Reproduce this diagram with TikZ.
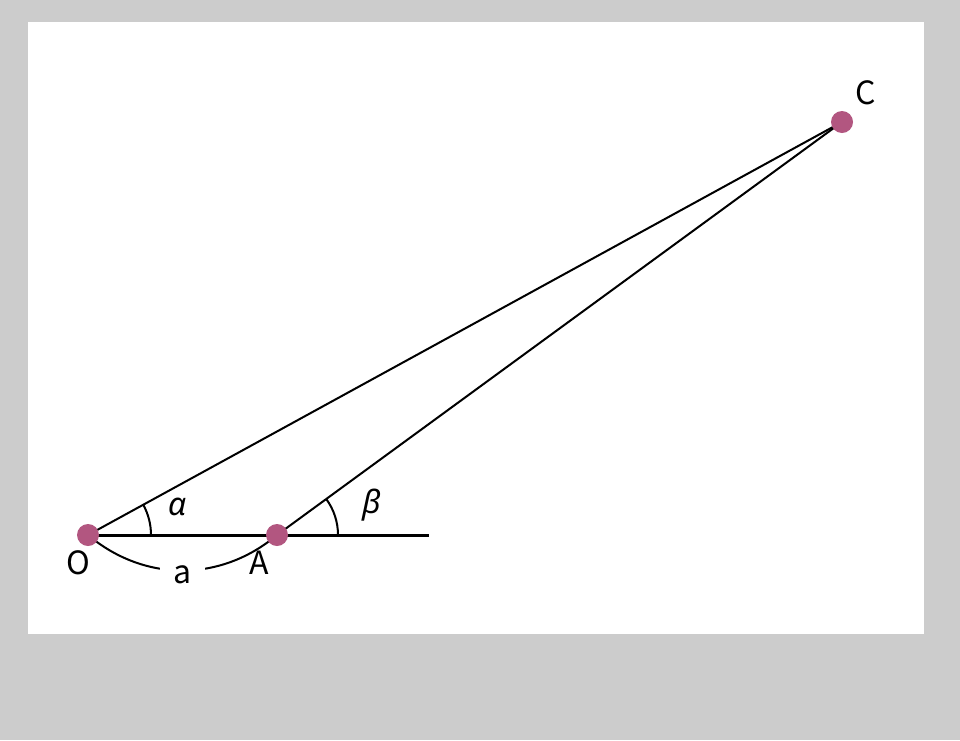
\documentclass[tikz,border=0pt]{standalone}
\usepackage{fontspec}
\setmainfont{Noto Sans CJK JP}
\newfontfamily\greekfont{Noto Sans}
\usetikzlibrary{angles}
\definecolor{dotpink}{RGB}{178,86,128}
\definecolor{framegray}{RGB}{204,204,204}

\begin{document}
\begin{tikzpicture}[x=0.75pt,y=-0.75pt,
  dot/.style = {circle, fill=dotpink, inner sep=0pt, minimum size=16.5pt},
  lbl/.style = {font=\fontsize{24}{28}\selectfont},
  greek/.style = {font=\fontsize{24}{28}\selectfont\greekfont\itshape},
  edge/.style = {line width=1.5pt}]
\fill[framegray] (0,0) rectangle (960,740);
\fill[white] (28,22) rectangle (924,634);
\coordinate (O) at (88,535);
\coordinate (A) at (277,535);
\coordinate (C) at (842,122);
\coordinate (E) at (429,535);
\draw[line width=2.25pt] (O) -- (E);
\draw[edge] (O) -- (C);
\draw[edge] (A) -- (C);
\pic[draw, edge, angle radius=47.25pt] {angle = E--O--C};
\pic[draw, edge, angle radius=45.75pt] {angle = E--A--C};
\draw[edge] (O) to[bend right=40] node[lbl, fill=white, inner xsep=10pt, inner ysep=1pt, yshift=-3pt] {a} (A);
\node[dot] (1) at (O) {};
\node[dot] (2) at (A) {};
\node[dot] (3) at (C) {};
\node[lbl] (4) at (78,563) {O};
\node[lbl] (5) at (259,563) {A};
\node[lbl] (6) at (866,93) {C};
\node[greek] (7) at (178,507) {α};
\node[greek] (8) at (372,505) {β};
\end{tikzpicture}
\end{document}
